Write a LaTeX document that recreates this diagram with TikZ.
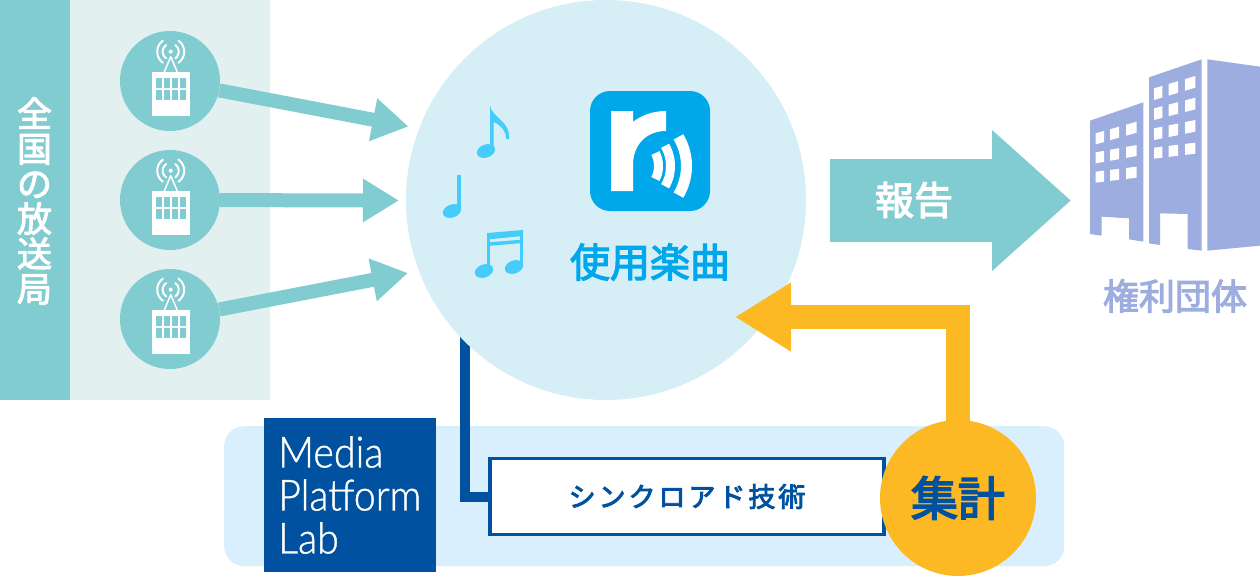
\documentclass[tikz,border=0pt]{standalone}
\usepackage{fontspec}
\usetikzlibrary{arrows.meta,calc,shapes.geometric}
\setmainfont{Noto Sans CJK JP}
\newfontfamily\cjkwide[LetterSpace=11]{Noto Sans CJK JP}
\newfontfamily\labfont[FakeStretch=0.915]{Lato Light}
\newcommand{\fsz}[1]{\fontsize{#1}{#1}\selectfont}
\newcommand{\hv}[2]{\special{pdf:code q 2 Tr #1 w}#2\special{pdf:code Q}}
\definecolor{teal}{HTML}{80CCD0}
\definecolor{palet}{HTML}{E2F1F0}
\definecolor{mainc}{HTML}{D6EFF6}
\definecolor{navy}{HTML}{00519F}
\definecolor{band}{HTML}{D9EFFD}
\definecolor{amber}{HTML}{FDB924}
\definecolor{sky}{HTML}{00A7EB}
\definecolor{notec}{HTML}{45CCFB}
\definecolor{peri}{HTML}{9DADE0}
\tikzset{
  stationdot/.style={circle,fill=teal,minimum size=100pt,inner sep=0pt},
  feed/.style={draw=teal,line width=14pt,-{Triangle[length=36pt,width=41pt]}},
  station/.pic={
    \fill[white] (-18,-9) rectangle (20,35);
    \foreach \xa/\xb in {-14/-7.7,-6/0.3,2/8.3,10/16}
      \foreach \ya/\yb in {-2.7/7.3,9/19}
        \fill[teal] (\xa,\ya) rectangle (\xb,\yb);
    \draw[white,line width=1.5pt,line join=round] (-5.7,-9) -- (0.7,-24.3) -- (7.3,-9);
    \fill[white] (0.7,-29.3) circle[radius=2pt];
    \foreach \r in {8,13.5}{
      \draw[white,line width=2pt,line cap=round] plot[domain=-55:55,samples=12] ({0.7+\r*cos(\x)},{-29.3+\r*sin(\x)});
      \draw[white,line width=2pt,line cap=round] plot[domain=125:235,samples=12] ({0.7+\r*cos(\x)},{-29.3+\r*sin(\x)});
    }
  }
}
\begin{document}
\begin{tikzpicture}[x=1pt,y=-1pt]
\useasboundingbox (0,0) rectangle (1260,576);
% left panels
\node[fill=palet,minimum width=200pt,minimum height=400pt,inner sep=0pt,anchor=north west] (panel) at (70,0) {};
\node[fill=teal,minimum width=70pt,minimum height=400pt,inner sep=0pt,anchor=north west] (side) at (0,0) {};
\node[text=white,align=center,inner sep=0pt,font=\fsz{35}] (sidelabel) at (34.5,201) {\baselineskip=36.3pt \hv{1}{全}\\\hv{1}{国}\\\hv{1}{の}\\\hv{1}{放}\\\hv{1}{送}\\\hv{1}{局}};
% band and blue connector
\node[fill=band,rounded corners=20pt,minimum width=840pt,minimum height=140pt,inner sep=0pt,anchor=north west] (bandbox) at (224,426) {};
\node[fill=navy,minimum width=172pt,minimum height=154pt,inner sep=0pt,anchor=north west] (lab) at (264,418) {};
\node[text=white,anchor=north west,align=left,inner sep=0pt,font=\labfont\fsz{43}] (labtext) at (278,436) {\baselineskip=43pt \hv{0.4}{Media}\\\hv{0.4}{Platform}\\\hv{0.4}{Lab}};
\coordinate (blue0) at (465,330);
\node[draw=navy,line width=3.3pt,fill=white,minimum width=394pt,minimum height=76pt,inner sep=0pt,text=navy,font=\cjkwide\fsz{27}] (sync) at (687,496.5) {\hv{0.9}{シンクロアド技術}};
\draw[navy,line width=10pt] (blue0) |- (sync.west);
% main circle
\node[circle,fill=mainc,minimum size=400pt,inner sep=0pt] (main) at (606,200) {};
% stations
\node[stationdot] (st1) at (170,81) {};
\node[stationdot] (st2) at (170,200) {};
\node[stationdot] (st3) at (170,319) {};
\pic at (st1) {station};
\pic at (st2) {station};
\pic at (st3) {station};
\coordinate (tip1) at (408.5,126.5);
\coordinate (tip2) at (399,200.5);
\coordinate (tip3) at (408,273);
\draw[feed] (st1) -- (tip1);
\draw[feed] (st2) -- (tip2);
\draw[feed] (st3) -- (tip3);
% logo
\node[fill=sky,rounded corners=20pt,minimum size=120pt,inner sep=0pt] (logo) at (650,151) {};
\fill[white] (611,111) -- (633,111) -- (633,122) .. controls (640,116) and (652,111) .. (666,111) -- (666,131) .. controls (646,131) and (633,145) .. (633,165) -- (633,191) -- (611,191) -- cycle;
\foreach \r/\w/\a in {28.5/9/27,40.5/9/30,56.5/11/31}
  \draw[white,line width=\w pt] plot[domain=-\a:\a,samples=16] ({630+\r*cos(\x)},{166+\r*sin(\x)});
\node[text=sky,font=\fsz{40},inner sep=0pt] (usedlabel) at (650,262) {\hv{1.2}{使用楽曲}};
% notes
\fill[notec] (486,151) ellipse[x radius=9.5pt,y radius=6.5pt,rotate=20];
\fill[notec] (490,151) -- (490,106) .. controls (493,118) and (511,122) .. (509,139) -- (506,139) .. controls (507,131) and (499,124) .. (493.5,122) -- (493.5,151) -- cycle;
\fill[notec] (452,211) ellipse[x radius=9.5pt,y radius=6.5pt,rotate=20];
\fill[notec] (457,211) rectangle (461,175);
\fill[notec] (484,271) ellipse[x radius=9.5pt,y radius=6.5pt,rotate=20];
\fill[notec] (514,267) ellipse[x radius=9.5pt,y radius=6.5pt,rotate=20];
\fill[notec] (487,271) rectangle (489.8,234);
\fill[notec] (520.2,267) rectangle (523,231);
\fill[notec] (487,233) -- (523,230) -- (523,236) -- (487,239.5) -- cycle;
\fill[notec] (487,242.5) -- (523,239.5) -- (523,243) -- (487,246) -- cycle;
% report arrow
\coordinate (rep0) at (830,200.5);
\coordinate (rep1) at (1071,200.5);
\draw[teal,line width=83pt,-{Triangle[length=79pt,width=136pt]}] (rep0) -- (rep1);
\node[text=white,font=\fsz{39},inner sep=0pt] (replabel) at (914,200) {\hv{1.2}{報告}};
% buildings
\begin{scope}[shift={(1080,50)},scale=0.33333]
\fill[peri] (30,212) -- (190,157) -- (190,575) -- (147,568) -- (147,505) -- (65,500) -- (65,557) -- (30,552) -- cycle;
\fill[peri] (207,82) -- (365,28) -- (365,602) -- (323,597) -- (323,492) -- (240,490) -- (240,585) -- (207,580) -- cycle;
\fill[peri] (382,28) -- (540,50) -- (540,587) -- (382,602) -- cycle;
\foreach \yl/\yr/\h in {250/215/33,307/285/33,365/350/33}
  \foreach \xa/\xb in {47/72,90/117,138/170}
    \fill[white] ({\xa},{\yl+(\xa-47)*(\yr-\yl)/123}) -- ({\xb},{\yl+(\xb-47)*(\yr-\yl)/123}) -- ({\xb},{\yl+(\xb-47)*(\yr-\yl)/123+\h}) -- ({\xa},{\yl+(\xa-47)*(\yr-\yl)/123+\h}) -- cycle;
\foreach \yl/\yr/\h in {115/78/35,175/143/35,235/210/35,293/278/33}
  \foreach \xa/\xb in {222/247,266/294,315/346}
    \fill[white] ({\xa},{\yl+(\xa-222)*(\yr-\yl)/124}) -- ({\xb},{\yl+(\xb-222)*(\yr-\yl)/124}) -- ({\xb},{\yl+(\xb-222)*(\yr-\yl)/124+\h}) -- ({\xa},{\yl+(\xa-222)*(\yr-\yl)/124+\h}) -- cycle;
\end{scope}
\node[text=peri,font=\fsz{36},inner sep=0pt] (rightslabel) at (1175,296) {\hv{1.1}{権利団体}};
% aggregate
\node[circle,fill=amber,minimum size=156pt,inner sep=0pt,text=navy,font=\fsz{47}] (agg) at (958,498) {\hv{1.6}{集計}};
\coordinate (tip4) at (735,317);
\draw[amber,line width=24pt,-{Triangle[length=56pt,width=65pt]}] (agg.center) ++(0,-60) |- (tip4);
\end{tikzpicture}
\end{document}
